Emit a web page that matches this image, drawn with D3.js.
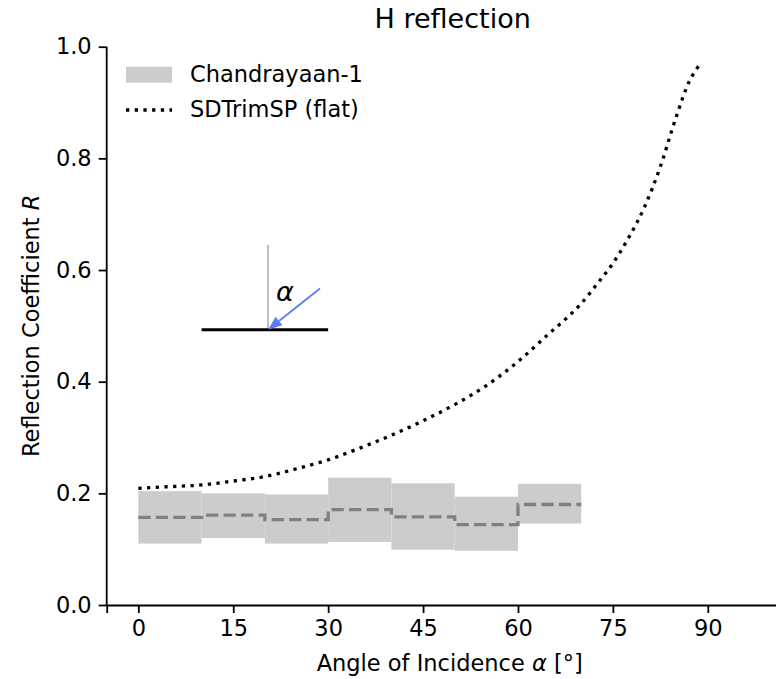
<!DOCTYPE html>
<html>
<head>
<meta charset="utf-8">
<script src="https://cdn.jsdelivr.net/npm/d3@7"></script>
<style>
  html, body { margin: 0; padding: 0; background: #fff; }
  svg { display: block; font-family: "DejaVu Sans", sans-serif; }
</style>
</head>
<body>
<svg id="chart" width="776" height="679"></svg>
<script>
// Chandrayaan-1 measurements, binned by angle of incidence (10° bins)
const binStart = [0, 10, 20, 30, 40, 50, 60];
const binEnd   = [10, 20, 30, 40, 50, 60, 70];
const bandLow  = [0.110, 0.120, 0.110, 0.113, 0.099, 0.097, 0.146];
const bandHigh = [0.204, 0.200, 0.198, 0.228, 0.218, 0.194, 0.217];
const binMedian = [0.157, 0.161, 0.153, 0.171, 0.158, 0.144, 0.180];

// SDTrimSP simulation for a flat surface
const simAngle = [0, 5, 10, 15, 20, 25, 30, 35, 40, 45, 50, 55, 60, 65, 67.5, 70, 72.5, 75, 77.5, 80, 82.5, 85, 87, 89];
const simR     = [0.209, 0.212, 0.215, 0.222, 0.230, 0.244, 0.260, 0.281, 0.304, 0.330, 0.359, 0.393, 0.436, 0.487, 0.512, 0.540, 0.575, 0.612, 0.658, 0.713, 0.785, 0.874, 0.936, 0.972];

const xTicks = [0, 15, 30, 45, 60, 75, 90];
const yTicks = [0.0, 0.2, 0.4, 0.6, 0.8, 1.0];

const seriesNames = ["Chandrayaan-1", "SDTrimSP (flat)"];

const svg = d3.select("#chart");
const plotL = 106.7, plotT = 46.7, plotB = 605, plotR = 802.7;

const x = d3.scaleLinear().domain([-5, 105]).range([plotL, plotR]);
const y = d3.scaleLinear().domain([0, 1]).range([plotB, plotT]);

const FS = 22.5;
const lw = 3.3;

// measurement bands
const bins = binStart.map((s, i) => ({ s, e: binEnd[i], lo: bandLow[i], hi: bandHigh[i], m: binMedian[i] }));
svg.append("g").selectAll("rect").data(bins).join("rect")
  .attr("x", d => x(d.s))
  .attr("width", d => x(d.e) - x(d.s))
  .attr("y", d => y(d.hi))
  .attr("height", d => y(d.lo) - y(d.hi))
  .attr("fill", "#cccccc");

// median as a dashed step line
const stepPts = bins.flatMap(d => [[d.s, d.m], [d.e, d.m]]);
svg.append("path")
  .attr("d", d3.line().x(d => x(d[0])).y(d => y(d[1]))(stepPts))
  .attr("fill", "none")
  .attr("stroke", "#808080")
  .attr("stroke-width", lw)
  .attr("stroke-dasharray", "12.2,5.3");

// simulation curve
const simPts = simAngle.map((a, i) => [a, simR[i]]);
svg.append("path")
  .attr("d", d3.line().x(d => x(d[0])).y(d => y(d[1])).curve(d3.curveMonotoneX)(simPts))
  .attr("fill", "none")
  .attr("stroke", "#000")
  .attr("stroke-width", lw)
  .attr("stroke-dasharray", "3.3,5.4");

// geometry sketch: surface, normal and incoming direction
const sketch = { surfL: 10, surfR: 30, surfY: 0.493, normX: 20.5, normTop: 0.645, arrowX: 28.7, arrowY: 0.567 };
svg.append("line")
  .attr("x1", x(sketch.normX)).attr("x2", x(sketch.normX))
  .attr("y1", y(sketch.surfY)).attr("y2", y(sketch.normTop))
  .attr("stroke", "#bfbfbf").attr("stroke-width", 2);
svg.append("line")
  .attr("x1", x(sketch.surfL)).attr("x2", x(sketch.surfR))
  .attr("y1", y(sketch.surfY)).attr("y2", y(sketch.surfY))
  .attr("stroke", "#000").attr("stroke-width", 3);
{
  const x0 = x(sketch.arrowX), y0 = y(sketch.arrowY);
  const x1 = x(sketch.normX), y1 = y(sketch.surfY);
  const ang = Math.atan2(y1 - y0, x1 - x0);
  const hl = 14, hw = 5.5;
  const bx = x1 - hl * Math.cos(ang), by = y1 - hl * Math.sin(ang);
  svg.append("line")
    .attr("x1", x0).attr("y1", y0).attr("x2", bx).attr("y2", by)
    .attr("stroke", "#5b7cf5").attr("stroke-width", 1.8);
  const px = -Math.sin(ang), py = Math.cos(ang);
  svg.append("path")
    .attr("d", `M${x1},${y1}L${bx + px * hw},${by + py * hw}L${bx - px * hw},${by - py * hw}Z`)
    .attr("fill", "#5b7cf5");
}
svg.append("text")
  .attr("x", 276).attr("y", y(sketch.surfY) - 29)
  .attr("font-size", 27).attr("font-style", "italic")
  .attr("fill", "#000")
  .text("α");

// axes
const xAxis = svg.append("g").attr("transform", `translate(0,${plotB})`)
  .call(d3.axisBottom(x).tickValues(xTicks).tickFormat(d3.format("d")).tickSize(8).tickPadding(7));
const yAxis = svg.append("g").attr("transform", `translate(${plotL},0)`)
  .call(d3.axisLeft(y).tickValues(yTicks).tickFormat(d3.format(".1f")).tickSize(8).tickPadding(7));
[xAxis, yAxis].forEach(g => {
  g.selectAll("path.domain").attr("stroke", "#000").attr("stroke-width", 1.8);
  g.selectAll(".tick line").attr("stroke", "#000").attr("stroke-width", 1.8);
  g.selectAll(".tick text").attr("font-size", FS).attr("font-family", "DejaVu Sans").attr("fill", "#000");
});
yAxis.select("path.domain").attr("d", `M0,${plotB}V${plotT}`);

// axis titles
const xl = svg.append("text")
  .attr("x", (plotL + plotR) / 2 - 5).attr("y", 671)
  .attr("text-anchor", "middle").attr("font-size", FS).attr("fill", "#000");
xl.append("tspan").text("Angle of Incidence ");
xl.append("tspan").attr("font-style", "italic").text("α");
xl.append("tspan").text(" [°]");

const yl = svg.append("text")
  .attr("transform", `translate(39,${(plotT + plotB) / 2}) rotate(-90)`)
  .attr("text-anchor", "middle").attr("font-size", FS).attr("fill", "#000");
yl.append("tspan").text("Reflection Coefficient ");
yl.append("tspan").attr("font-style", "italic").text("R");

svg.append("text")
  .attr("x", (plotL + plotR) / 2 - 2).attr("y", 28)
  .attr("text-anchor", "middle").attr("font-size", 27).attr("fill", "#000")
  .text("H reflection");

// legend
const lg = svg.append("g").attr("transform", "translate(126,0)");
lg.append("rect").attr("x", 0).attr("y", 66.7).attr("width", 46).attr("height", 16).attr("fill", "#cccccc");
lg.append("line").attr("x1", 0).attr("x2", 46).attr("y1", 110).attr("y2", 110)
  .attr("stroke", "#000").attr("stroke-width", lw).attr("stroke-dasharray", "3.3,5.4");
lg.selectAll("text.lbl").data(seriesNames).join("text")
  .attr("class", "lbl")
  .attr("x", 64).attr("y", (d, i) => 82 + i * 35)
  .attr("font-size", FS).attr("fill", "#000")
  .text(d => d);
</script>
</body>
</html>
